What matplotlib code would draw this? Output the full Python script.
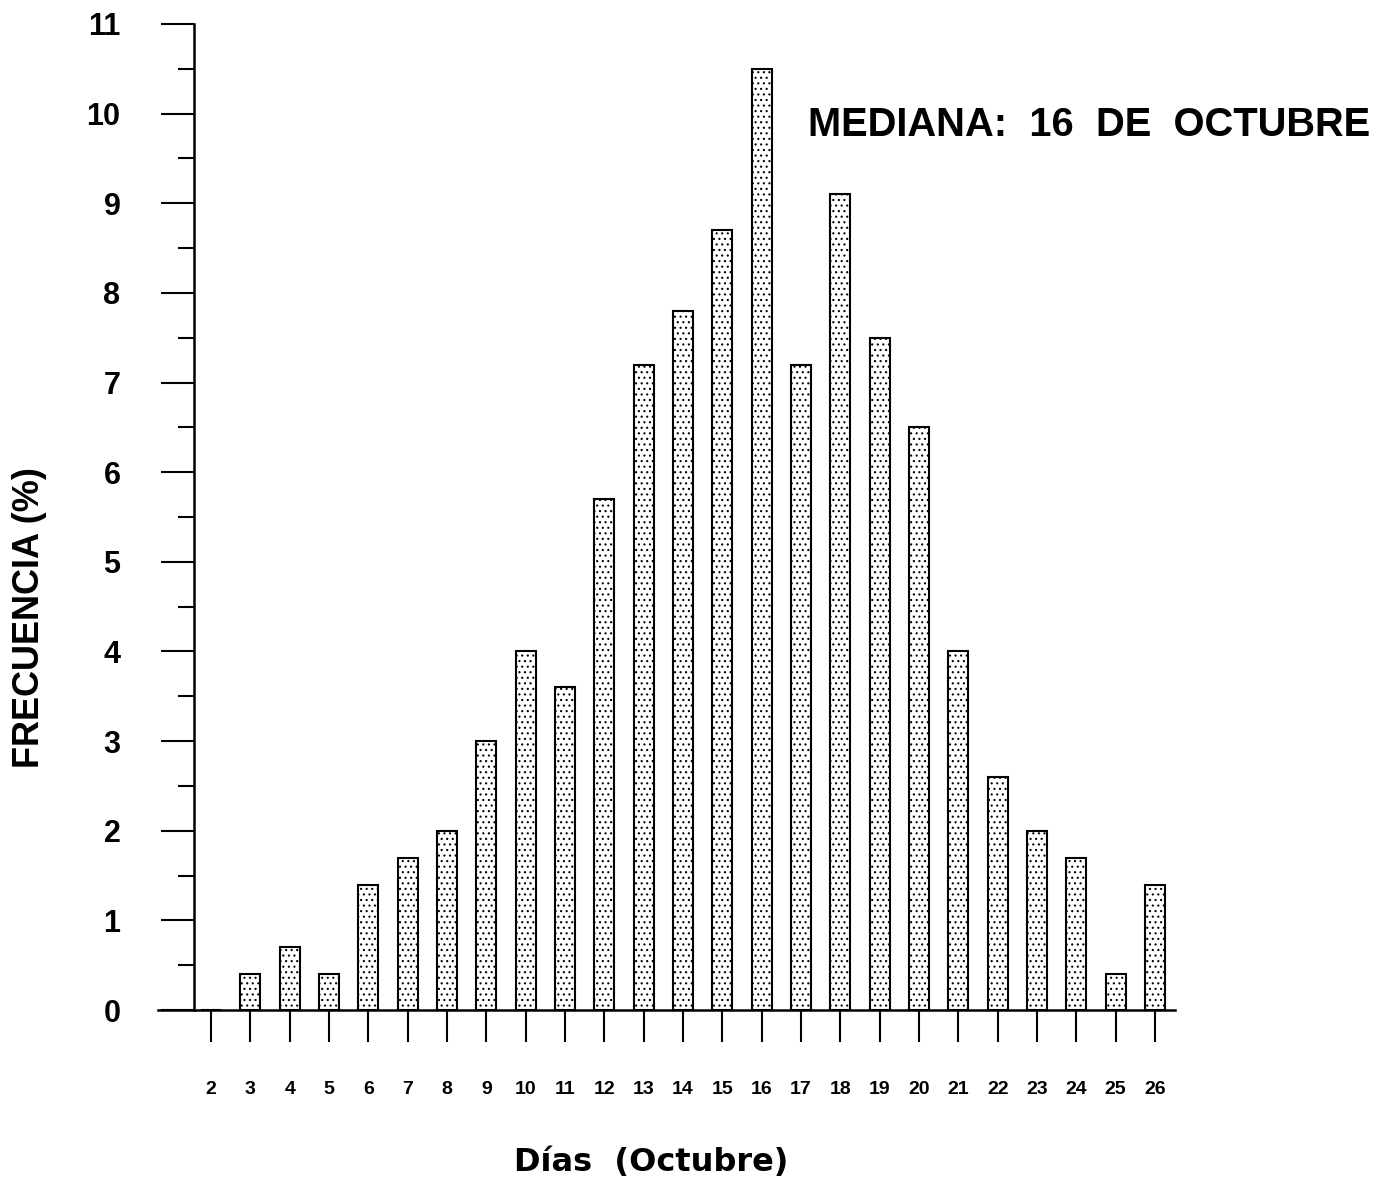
import numpy as np
import matplotlib; matplotlib.use("Agg")
import matplotlib.pyplot as plt

dias = list(range(2, 27))
frecuencia = [0, 0.4, 0.7, 0.4, 1.4, 1.7, 2.0, 3.0, 4.0, 3.6, 5.7, 7.2, 7.8, 8.7,
              10.5, 7.2, 9.1, 7.5, 6.5, 4.0, 2.6, 2.0, 1.7, 0.4, 1.4]
yticks = list(range(0, 12))

plt.rcParams["font.family"] = ["Liberation Sans", "DejaVu Sans"]
plt.rcParams["font.weight"] = "bold"
plt.rcParams["hatch.linewidth"] = 0.8
plt.rcParams["hatch.color"] = "black"

W, H = 1388, 1180
fig = plt.figure(figsize=(W / 100, H / 100), dpi=100)
ax = fig.add_axes([158/W, (H-1010)/H, (1175-158)/W, (1010-24)/H])

ax.bar(dias, frecuencia, width=0.51, facecolor="white", edgecolor="black",
       linewidth=1.5, hatch="...")

ax.set_xlim(0.65, 26.51)
ax.set_ylim(0, 11)
ax.spines["top"].set_visible(False)
ax.spines["right"].set_visible(False)
ax.spines["left"].set_position(("data", 1.57))
ax.spines["left"].set_bounds(0, 11)
for s in ("left", "bottom"):
    ax.spines[s].set_linewidth(1.8)

ax.set_yticks(yticks)
ax.set_yticks(np.arange(0.5, 11, 1), minor=True)
ax.set_xticks(dias)
ax.set_xticklabels([str(d) for d in dias])
ax.tick_params(axis="y", which="major", length=24, width=1.5, pad=29, labelsize=22)
ax.tick_params(axis="y", which="minor", length=11.5, width=1.5)
ax.tick_params(axis="x", which="major", length=23, width=1.5, pad=28, labelsize=14)

# axis titles placed in pixel positions
fig.text(30/W, 1 - 618/H, "FRECUENCIA (%)", rotation=90, fontsize=26,
         fontweight="bold", ha="center", va="center")
fig.text(651/W, 1 - 1162/H, "Días  (Octubre)", fontsize=23, fontweight="bold",
         family=["DejaVu Sans"], ha="center", va="center")
fig.text(808/W, 1 - 125/H, "MEDIANA:  16  DE  OCTUBRE", fontsize=28.7,
         fontweight="bold", ha="left", va="center")

fig.savefig("out.png", dpi=100)
